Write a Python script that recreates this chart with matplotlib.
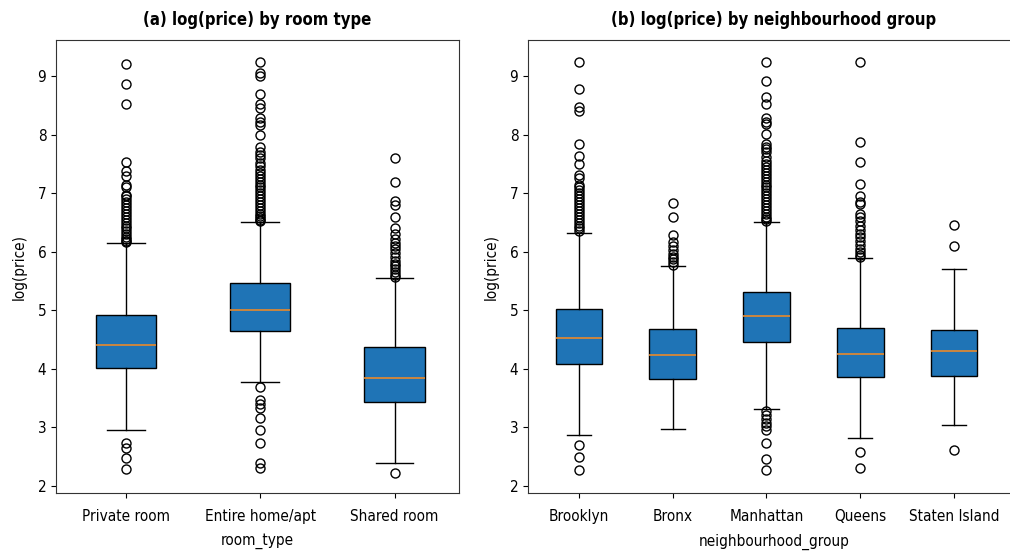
import matplotlib
matplotlib.use("Agg")
import matplotlib.pyplot as plt
from matplotlib import font_manager

# ---------------- data ----------------
room_types = ["Private room", "Entire home/apt", "Shared room"]
room_q1 = [4.01, 4.64, 3.43]
room_med = [4.41, 5.00, 3.85]
room_q3 = [4.92, 5.47, 4.37]
room_whislo = [2.95, 3.77, 2.39]
room_whishi = [6.15, 6.51, 5.55]
room_fliers = [
    [9.21, 8.87, 8.52, 7.53, 7.38, 7.30, 7.14, 7.10, 6.98, 6.95, 6.90, 6.85,
     6.80, 6.75, 6.70, 6.65, 6.60, 6.55, 6.50, 6.45, 6.40, 6.35, 6.30, 6.26,
     6.22, 6.19, 6.17, 2.74, 2.65, 2.47, 2.29],
    [9.25, 9.05, 9.00, 8.70, 8.53, 8.45, 8.28, 8.22, 8.17, 8.00, 7.80, 7.70,
     7.65, 7.60, 7.52, 7.47, 7.40, 7.35, 7.30, 7.25, 7.20, 7.15, 7.10, 7.05,
     7.00, 6.95, 6.90, 6.85, 6.80, 6.75, 6.70, 6.65, 6.62, 6.58, 6.55, 6.53,
     3.69, 3.47, 3.40, 3.33, 3.17, 2.96, 2.74, 2.39, 2.30],
    [7.60, 7.19, 6.87, 6.80, 6.60, 6.40, 6.30, 6.22, 6.15, 6.10, 6.05, 5.98,
     5.92, 5.85, 5.80, 5.75, 5.70, 5.65, 5.60, 5.57, 2.23],
]

groups = ["Brooklyn", "Bronx", "Manhattan", "Queens", "Staten Island"]
grp_q1 = [4.08, 3.83, 4.46, 3.87, 3.88]
grp_med = [4.53, 4.24, 4.91, 4.25, 4.30]
grp_q3 = [5.02, 4.68, 5.32, 4.70, 4.67]
grp_whislo = [2.87, 2.98, 3.32, 2.82, 3.04]
grp_whishi = [6.33, 5.75, 6.51, 5.89, 5.70]
grp_fliers = [
    [9.25, 8.79, 8.47, 8.40, 7.85, 7.63, 7.50, 7.32, 7.27, 7.15, 7.10, 7.05,
     7.00, 6.95, 6.90, 6.85, 6.80, 6.75, 6.70, 6.65, 6.60, 6.55, 6.50, 6.45,
     6.40, 6.36, 2.70, 2.50, 2.27],
    [6.84, 6.60, 6.28, 6.17, 6.10, 6.04, 5.97, 5.92, 5.87, 5.82, 5.78],
    [9.25, 8.92, 8.65, 8.52, 8.28, 8.22, 8.18, 8.02, 7.85, 7.80, 7.75, 7.70,
     7.62, 7.55, 7.50, 7.45, 7.40, 7.35, 7.30, 7.25, 7.20, 7.15, 7.10, 7.05,
     7.00, 6.95, 6.90, 6.85, 6.80, 6.75, 6.70, 6.65, 6.60, 6.56, 6.53,
     3.28, 3.22, 3.15, 3.08, 3.03, 2.96, 2.74, 2.46, 2.28],
    [9.25, 7.88, 7.53, 7.16, 6.95, 6.85, 6.82, 6.65, 6.60, 6.52, 6.45, 6.38,
     6.30, 6.25, 6.18, 6.12, 6.05, 6.00, 5.95, 5.92, 2.58, 2.31],
    [6.46, 6.10, 2.61],
]


def make_stats(labels, q1, med, q3, lo, hi, fl):
    return [dict(label=l, q1=a, med=m, q3=b, whislo=w0, whishi=w1, fliers=f)
            for l, a, m, b, w0, w1, f in zip(labels, q1, med, q3, lo, hi, fl)]


# use a condensed face if one is installed
names = {f.name for f in font_manager.fontManager.ttflist}
family = "DejaVu Sans"
stretch = "normal"
if "DejaVu Sans Condensed" in names:
    family = "DejaVu Sans Condensed"
else:
    for f in font_manager.fontManager.ttflist:
        if f.name == "DejaVu Sans" and f.stretch in ("condensed", "semi-condensed"):
            stretch = "condensed"
            break
plt.rcParams["font.family"] = [family]
plt.rcParams["font.stretch"] = stretch

fig = plt.figure(figsize=(10.1, 5.51), dpi=100)
ax1 = fig.add_axes([56 / 1010, 58 / 551, 403 / 1010, 453 / 551])
ax2 = fig.add_axes([528 / 1010, 58 / 551, 492 / 1010, 453 / 551])

box_face = "#1f74b6"
common = dict(
    patch_artist=True,
    boxprops=dict(facecolor=box_face, edgecolor="black", linewidth=1.0),
    medianprops=dict(color="#e8892a", linewidth=1.2),
    whiskerprops=dict(color="black", linewidth=1.0),
    capprops=dict(color="black", linewidth=1.0),
    flierprops=dict(marker="o", markerfacecolor="none",
                    markeredgecolor="black", markersize=6.5, linewidth=0),
)

ax1.bxp(make_stats(room_types, room_q1, room_med, room_q3,
                   room_whislo, room_whishi, room_fliers),
        widths=0.45, capwidths=0.28, **common)
ax2.bxp(make_stats(groups, grp_q1, grp_med, grp_q3,
                   grp_whislo, grp_whishi, grp_fliers),
        widths=0.5, capwidths=0.26, **common)

ax1.set_xlim(0.48, 3.48)
x0 = 1 - 51 / 93.75
ax2.set_xlim(x0, x0 + 492 / 93.75)

for ax, title, xlabel in [
    (ax1, "(a) log(price) by room type", "room_type"),
    (ax2, "(b) log(price) by neighbourhood group", "neighbourhood_group"),
]:
    ax.set_ylim(1.88, 9.62)
    ax.set_yticks([2, 3, 4, 5, 6, 7, 8, 9])
    ax.set_title(title, fontsize=12, fontweight="bold", pad=11)
    ax.set_xlabel(xlabel, fontsize=11, labelpad=7)
    ax.set_ylabel("log(price)", fontsize=11, labelpad=8)
    ax.tick_params(axis="x", labelsize=11, pad=8)
    ax.tick_params(axis="y", labelsize=11)
    for s in ax.spines.values():
        s.set_color("#333333")

fig.savefig("out.png", dpi=100)
